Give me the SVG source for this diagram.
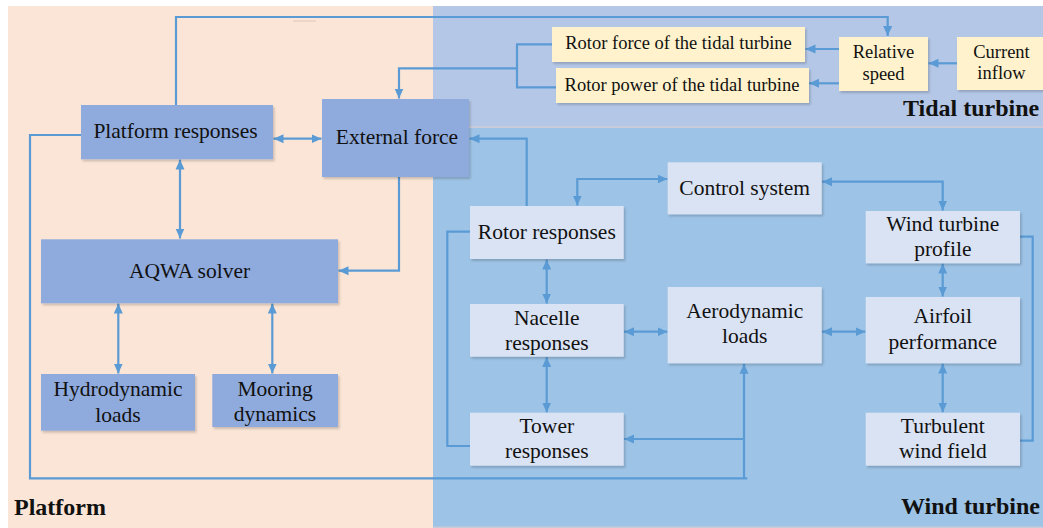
<svg xmlns="http://www.w3.org/2000/svg" width="1043" height="528" viewBox="0 0 1043 528">
<style>
.t{font-family:"Liberation Serif","Times New Roman",serif;fill:#111;text-anchor:middle}
.b{font-size:21.5px}
.s{font-size:18.5px}
.lbl{font-family:"Liberation Serif","Times New Roman",serif;font-weight:bold;font-size:24px;fill:#111}
.pb{fill:#8faadc}
.wb{fill:#dae3f3}
.tb{fill:#fff2cc}
.c{fill:none;stroke:#5b9bd5;stroke-width:2.2}
.a{marker-end:url(#ah)}
.d{marker-start:url(#ah);marker-end:url(#ah)}
</style>
<defs>
<marker id="ah" markerUnits="userSpaceOnUse" markerWidth="11" markerHeight="10" refX="10" refY="5" orient="auto-start-reverse" viewBox="0 0 11 10">
<path d="M0,0.5 L10,5 L0,9.5 z" fill="#5b9bd5"/>
</marker>
<filter id="sh" x="-10%" y="-10%" width="125%" height="130%">
<feDropShadow dx="1.5" dy="2" stdDeviation="1.2" flood-color="#000" flood-opacity="0.18"/>
</filter>
</defs>
<rect x="0" y="0" width="1043" height="528" fill="#ffffff"/>
<g id="regions">
<rect x="8" y="6" width="425" height="522" fill="#fbe5d6"/>
<rect x="433" y="6" width="610" height="121" fill="#b4c7e7"/>
<rect x="433" y="126" width="610" height="2" fill="#c8ccd8"/>
<rect x="433" y="128" width="610" height="399" fill="#9dc3e6"/>
<rect x="433" y="526.5" width="610" height="1.5" fill="#c8ccd8"/>
<line x1="293" y1="21" x2="316" y2="21" stroke="#dcc8bc" stroke-width="1"/>
<text class="lbl" x="14" y="515">Platform</text>
<text class="lbl" x="903" y="116">Tidal turbine</text>
<text class="lbl" x="901" y="514">Wind turbine</text>
</g>
<g id="connectors">
<path class="c a" d="M176,105 V17 H887.7 V36"/>
<path class="c" d="M552,44.3 H517 V87.3 H556"/>
<path class="c a" d="M517,68.3 H399 V98.5"/>
<path class="c a" d="M957,63.3 H928.5"/>
<path class="c a" d="M839,49 H805.5"/>
<path class="c a" d="M839,83.3 H809"/>
<path class="c d" d="M273.5,138.7 H321.5"/>
<path class="c d" d="M180,159.5 V238.5"/>
<path class="c a" d="M399,177 V270.7 H338.5"/>
<path class="c d" d="M118.3,303.5 V373.5"/>
<path class="c d" d="M272.3,303.5 V373.5"/>
<path class="c a" d="M81,135 H30 V478.3 H747.3 M744,478.3 V363.8"/>
<path class="c a" d="M744,439 H624"/>
<path class="c a" d="M526.7,206 V138.7 H469.5"/>
<path class="c d" d="M577.3,205.5 V179 H667.5"/>
<path class="c d" d="M822,181.7 H942.7 V210.5"/>
<path class="c d" d="M546.7,259.5 V303.5"/>
<path class="c d" d="M546.7,357 V412.5"/>
<path class="c d" d="M624,331.7 H667.5"/>
<path class="c d" d="M822,331.7 H865.5"/>
<path class="c d" d="M942.7,263.5 V296.5"/>
<path class="c d" d="M942.7,363.5 V412.5"/>
<path class="c" d="M470,231.7 H447.3 V446 H470"/>
<path class="c" d="M1020,236.7 H1032.7 V440.7 H1020"/>
</g>
<g id="platform-responses"><rect class="pb" x="81" y="105" width="192" height="54.3" filter="url(#sh)"/><text class="t b" x="175.5" y="138.3">Platform responses</text></g>
<g id="external-force"><rect class="pb" x="322" y="99" width="147" height="78" filter="url(#sh)"/><text class="t b" x="397" y="144.3">External force</text></g>
<g id="aqwa-solver"><rect class="pb" x="41" y="239.3" width="297" height="64" filter="url(#sh)"/><text class="t b" x="189.5" y="277.7">AQWA solver</text></g>
<g id="hydrodynamic-loads"><rect class="pb" x="41" y="374" width="154" height="56.7" filter="url(#sh)"/><text class="t b" x="118" y="396">Hydrodynamic</text><text class="t b" x="118" y="421.7">loads</text></g>
<g id="mooring-dynamics"><rect class="pb" x="212.3" y="374" width="125.7" height="53" filter="url(#sh)"/><text class="t b" x="275" y="396">Mooring</text><text class="t b" x="275" y="420.7">dynamics</text></g>
<g id="rotor-force"><rect class="tb" x="552" y="27" width="253" height="35" filter="url(#sh)"/><text class="t s" x="678.5" y="49.3">Rotor force of the tidal turbine</text></g>
<g id="rotor-power"><rect class="tb" x="556" y="68" width="253" height="35" filter="url(#sh)"/><text class="t s" x="682" y="91">Rotor power of the tidal turbine</text></g>
<g id="relative-speed"><rect class="tb" x="839" y="37" width="89" height="54" filter="url(#sh)"/><text class="t s" x="883.5" y="58.3">Relative</text><text class="t s" x="883.5" y="80">speed</text></g>
<g id="current-inflow"><rect class="tb" x="957" y="37" width="90" height="53" filter="url(#sh)"/><text class="t s" x="1001.5" y="58.3">Current</text><text class="t s" x="1001.5" y="79">inflow</text></g>
<g id="control-system"><rect class="wb" x="667.7" y="162.3" width="154" height="52" filter="url(#sh)"/><text class="t b" x="744.7" y="195">Control system</text></g>
<g id="rotor-responses"><rect class="wb" x="470" y="206" width="153.7" height="53" filter="url(#sh)"/><text class="t b" x="546.8" y="239.3">Rotor responses</text></g>
<g id="wind-turbine-profile"><rect class="wb" x="865.7" y="211" width="154.3" height="52.3" filter="url(#sh)"/><text class="t b" x="942.8" y="230.7">Wind turbine</text><text class="t b" x="942.8" y="256">profile</text></g>
<g id="nacelle-responses"><rect class="wb" x="470" y="304" width="153.7" height="52.7" filter="url(#sh)"/><text class="t b" x="546.8" y="324.6">Nacelle</text><text class="t b" x="546.8" y="349.6">responses</text></g>
<g id="aerodynamic-loads"><rect class="wb" x="667.7" y="287" width="154" height="76.3" filter="url(#sh)"/><text class="t b" x="744.7" y="318.3">Aerodynamic</text><text class="t b" x="744.7" y="343.3">loads</text></g>
<g id="airfoil-performance"><rect class="wb" x="865.7" y="297" width="154.3" height="66.3" filter="url(#sh)"/><text class="t b" x="942.8" y="323.3">Airfoil</text><text class="t b" x="942.8" y="349.3">performance</text></g>
<g id="tower-responses"><rect class="wb" x="470" y="412.7" width="153.7" height="53" filter="url(#sh)"/><text class="t b" x="546.8" y="433.3">Tower</text><text class="t b" x="546.8" y="458.3">responses</text></g>
<g id="turbulent-wind-field"><rect class="wb" x="865.7" y="412.7" width="154.3" height="53" filter="url(#sh)"/><text class="t b" x="942.8" y="433.3">Turbulent</text><text class="t b" x="942.8" y="458.3">wind field</text></g>
</svg>
